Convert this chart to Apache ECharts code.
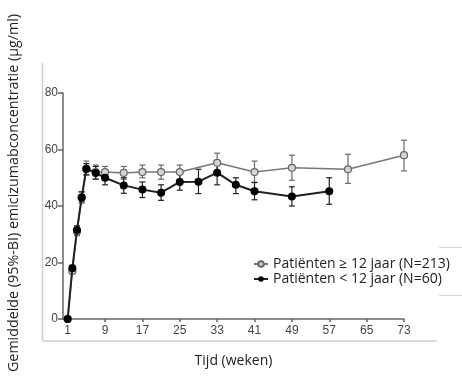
<!DOCTYPE html>
<html><head><meta charset="utf-8">
<script src="https://cdn.jsdelivr.net/npm/echarts@6/dist/echarts.min.js"></script>
<style>html,body{margin:0;padding:0;background:#fff}#c{width:462px;height:382px}</style>
</head><body><div id="c"></div>
<script>
var xTicks = [1, 9, 17, 25, 33, 41, 49, 57, 65, 73];
var yTicks = [0, 20, 40, 60, 80];
var seriesNames = ['Patiënten ≥ 12 jaar (N=213)', 'Patiënten < 12 jaar (N=60)'];

var weeksA = [1, 2, 3, 4, 5, 7, 9, 13, 17, 21, 25, 33, 41, 49, 61, 73];
var meanA  = [0, 17, 31, 43, 53, 52, 52, 51.7, 52, 52, 52, 55.3, 52, 53.5, 53, 58];
var lowA   = [0, 16, 29.5, 41, 51, 49.5, 50, 49.5, 50, 49.5, 49.5, 52, 48.4, 49.1, 48, 52.4];
var highA  = [0, 18.5, 32.5, 45, 55.9, 54.5, 54, 54, 54.5, 54.5, 54.5, 58.7, 55.9, 58, 58.3, 63.3];

var weeksB = [1, 2, 3, 4, 5, 7, 9, 13, 17, 21, 25, 29, 33, 37, 41, 49, 57];
var meanB  = [0, 18, 31.5, 43, 53.2, 51.7, 50, 47.3, 45.8, 44.7, 48.5, 48.6, 51.8, 47.5, 45.2, 43.4, 45.2];
var lowB   = [0, 17, 30, 41.5, 51, 49.5, 47.5, 44.5, 43, 42, 45.6, 44.4, 47.5, 44.4, 42.2, 40, 40.6];
var highB  = [0, 19, 33, 45, 55, 54, 52, 50, 48.5, 47.5, 51.5, 53, 56, 50, 48.3, 46.8, 50];

function pts(w, m) { return w.map(function (x, i) { return [x, m[i]]; }); }
function bars(w, l, h) {
  var out = [];
  w.forEach(function (x, i) { if (h[i] > l[i]) out.push([x, l[i], h[i]]); });
  return out;
}
function errRender(color) {
  return function (params, api) {
    var lo = api.coord([api.value(0), api.value(1)]);
    var hi = api.coord([api.value(0), api.value(2)]);
    var cap = 3;
    var st = { stroke: color, lineWidth: 1.2 };
    return { type: 'group', children: [
      { type: 'line', shape: { x1: lo[0], y1: lo[1], x2: hi[0], y2: hi[1] }, style: st },
      { type: 'line', shape: { x1: lo[0] - cap, y1: lo[1], x2: lo[0] + cap, y2: lo[1] }, style: st },
      { type: 'line', shape: { x1: hi[0] - cap, y1: hi[1], x2: hi[0] + cap, y2: hi[1] }, style: st }
    ]};
  };
}

var chart = echarts.init(document.getElementById('c'), null, { renderer: 'canvas' });
chart.setOption({
  animation: false,
  backgroundColor: '#fff',
  grid: { left: 63, right: 58, top: 93, bottom: 63 },
  xAxis: {
    type: 'value', min: 0, max: 73,
    name: 'Tijd (weken)', nameLocation: 'middle', nameGap: 35,
    nameTextStyle: { fontFamily: 'Open Sans', fontSize: 14, color: '#222' },
    axisLine: { show: true, lineStyle: { color: '#666', width: 1.5 } },
    axisTick: { show: true, customValues: xTicks, length: 3, lineStyle: { color: '#666', width: 1.5 } },
    axisLabel: { customValues: xTicks, fontFamily: 'Liberation Sans', fontSize: 12, color: '#444', margin: 6 },
    splitLine: { show: false }
  },
  yAxis: {
    type: 'value', min: 0, max: 80, interval: 20,
    axisLine: { show: true, lineStyle: { color: '#666', width: 1.5 } },
    axisTick: { show: true, length: 5, lineStyle: { color: '#666', width: 1.5 } },
    axisLabel: { fontFamily: 'Liberation Sans', fontSize: 12, color: '#444', margin: 5 },
    splitLine: { show: false }
  },
  legend: {
    orient: 'vertical', left: 248, top: 252, itemGap: 1, itemWidth: 14, itemHeight: 7,
    textStyle: { fontFamily: 'Open Sans', fontSize: 14, color: '#222' },
    data: seriesNames
  },
  graphic: [
    { type: 'line', shape: { x1: 42.5, y1: 63, x2: 42.5, y2: 341 }, style: { stroke: '#cfcfcf', lineWidth: 1.5 } },
    { type: 'line', shape: { x1: 42.5, y1: 341, x2: 437, y2: 341 }, style: { stroke: '#cfcfcf', lineWidth: 1.5 } },
    { type: 'line', shape: { x1: 439, y1: 247.5, x2: 462, y2: 247.5 }, style: { stroke: '#d8d8d8', lineWidth: 1 } },
    { type: 'line', shape: { x1: 439, y1: 295.5, x2: 462, y2: 295.5 }, style: { stroke: '#d8d8d8', lineWidth: 1 } },
    { type: 'text', x: 14, y: 193, rotation: Math.PI / 2,
      style: { text: 'Gemiddelde (95%-BI) emicizumabconcentratie (µg/ml)', fontFamily: 'Open Sans', fontSize: 14.3, fill: '#222', align: 'center', verticalAlign: 'middle' } }
  ],
  series: [
    { type: 'custom', name: 'errA', renderItem: errRender('#6a6a6a'), data: bars(weeksA, lowA, highA), z: 2, silent: true },
    { type: 'custom', name: 'errB', renderItem: errRender('#222'), data: bars(weeksB, lowB, highB), z: 2, silent: true },
    { type: 'line', name: seriesNames[0], data: pts(weeksA, meanA), symbol: 'circle', symbolSize: 7,
      lineStyle: { color: '#777', width: 1.5 }, itemStyle: { color: '#d4d4d4', borderColor: '#666', borderWidth: 1.2 }, z: 3 },
    { type: 'line', name: seriesNames[1], data: pts(weeksB, meanB), symbol: 'circle', symbolSize: 8,
      lineStyle: { color: '#222', width: 2 }, itemStyle: { color: '#000', borderColor: '#000', borderWidth: 0 }, z: 4 }
  ]
});
</script></body></html>
